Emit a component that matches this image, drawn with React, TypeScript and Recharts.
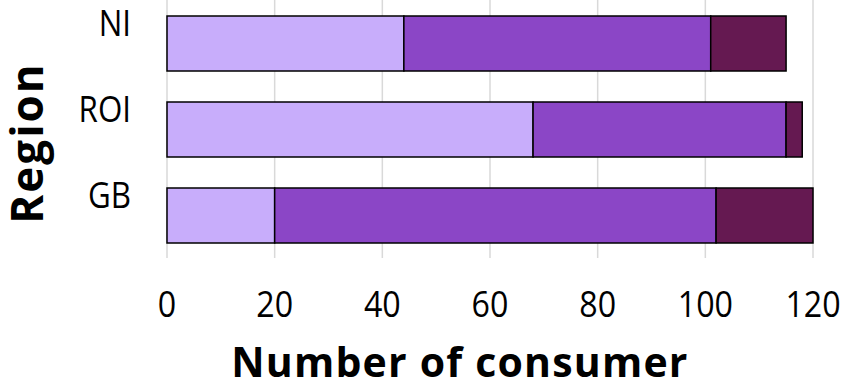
import { BarChart, Bar, XAxis, YAxis, CartesianGrid } from "recharts";

const REGIONS = ["NI", "ROI", "GB"];
const LOW = [44, 68, 20];
const MEDIUM = [57, 47, 82];
const HIGH = [14, 3, 18];
const X_TICKS = [0, 20, 40, 60, 80, 100, 120];

const SERIES = [
  { key: "low", color: "#c8adfb" },
  { key: "medium", color: "#8b46c6" },
  { key: "high", color: "#651951" },
];

const chartData = REGIONS.map((region, i) => ({
  region,
  low: LOW[i],
  medium: MEDIUM[i],
  high: HIGH[i],
}));

const FONT = "'Open Sans', 'Noto Sans', sans-serif";

// regular labels are set a bit narrower than Open Sans
const XTick = (props: any) => {
  const { x, y, payload } = props;
  return (
    <text
      transform={`translate(${x},${y + 51}) scale(0.87,1)`}
      textAnchor="middle"
      fontFamily={FONT}
      fontSize={37}
      fill="#000"
    >
      {payload.value}
    </text>
  );
};

const YTick = (props: any) => {
  const { y, payload } = props;
  return (
    <text
      transform={`translate(131,${y - 7}) scale(0.87,1)`}
      textAnchor="end"
      fontFamily={FONT}
      fontSize={36}
      fill="#000"
    >
      {payload.value}
    </text>
  );
};

export default function App() {
  return (
    <div style={{ position: "absolute", left: 0, top: 0, background: "#fff" }}>
      <BarChart
        width={844}
        height={387}
        data={chartData}
        layout="vertical"
        margin={{ top: 0, right: 31, bottom: 0, left: 0 }}
        barSize={55}
      >
        <CartesianGrid horizontal={false} stroke="#d9d9d9" strokeWidth={1.5} />
        <XAxis
          type="number"
          domain={[0, 120]}
          ticks={X_TICKS}
          axisLine={false}
          tickLine={false}
          height={129}
          tick={<XTick />}
          interval={0}
          label={{
            content: () => (
              <text
                x={460}
                y={377}
                textAnchor="middle"
                fontFamily={FONT}
                fontWeight={700}
                fontSize={41}
                letterSpacing={1.2}
                fill="#000"
              >
                Number of consumer
              </text>
            ),
          }}
        />
        <YAxis
          type="category"
          dataKey="region"
          width={167}
          axisLine={false}
          tickLine={false}
          tick={<YTick />}
          interval={0}
          label={{
            content: () => (
              <text
                x={43}
                y={143}
                transform="rotate(-90, 43, 143)"
                textAnchor="middle"
                fontFamily={FONT}
                fontWeight={700}
                fontSize={44}
                letterSpacing={2}
                fill="#000"
              >
                Region
              </text>
            ),
          }}
        />
        {SERIES.map((s) => (
          <Bar
            key={s.key}
            dataKey={s.key}
            stackId="a"
            fill={s.color}
            stroke="#000"
            strokeWidth={1.5}
            isAnimationActive={false}
          />
        ))}
      </BarChart>
    </div>
  );
}
